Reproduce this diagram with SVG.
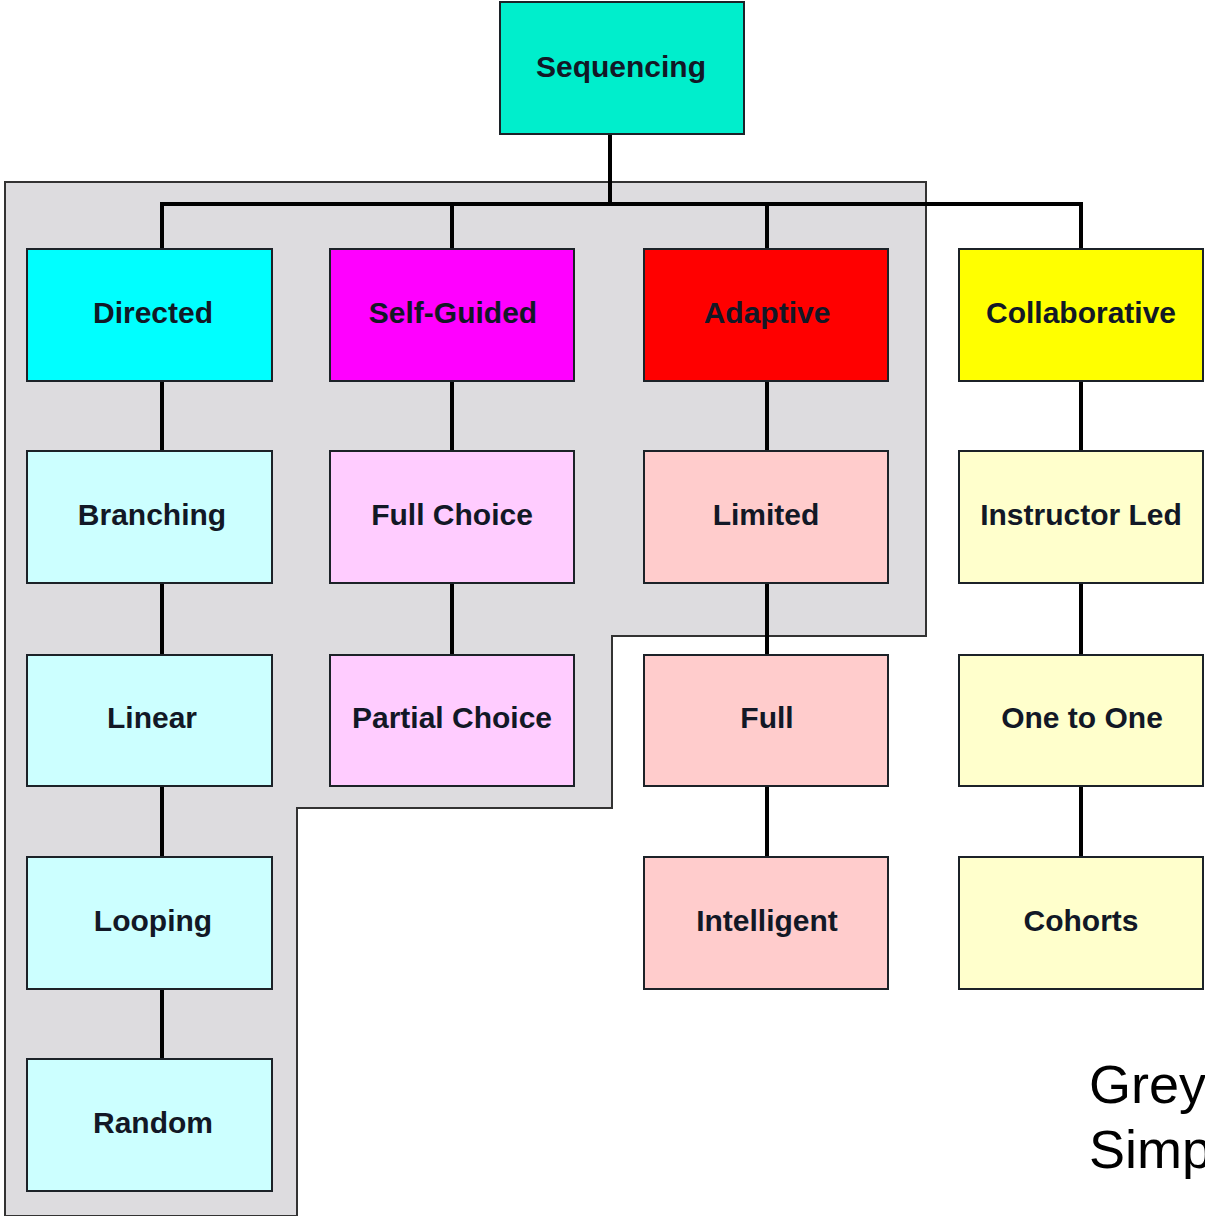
<svg xmlns="http://www.w3.org/2000/svg" width="1205" height="1216" viewBox="0 0 1205 1216">
<style>
.box{stroke:#1c2228;stroke-width:2}
.lbl{font-family:"Liberation Sans",Arial,sans-serif;font-weight:bold;font-size:30px;fill:#121826;text-anchor:middle}
.conn{stroke:#000;stroke-width:4;fill:none}
.note{font-family:"Liberation Sans",Arial,sans-serif;font-size:54px;fill:#000}
</style>
<rect width="1205" height="1216" fill="#fff"/>
<g id="grey-region">
<path d="M5,182 H926 V636 H612 V808 H297 V1216 H5 Z" fill="#dddcdf" stroke="#333" stroke-width="2"/>
</g>
<g id="connectors">
<path class="conn" d="M610,134 V204"/>
<path class="conn" d="M162,249 V204 H1081 V249"/>
<path class="conn" d="M452,204 V249"/>
<path class="conn" d="M767,204 V249"/>
<path class="conn" d="M162,381 V451 M162,583 V655 M162,786 V857 M162,989 V1059"/>
<path class="conn" d="M452,381 V451 M452,583 V655"/>
<path class="conn" d="M767,381 V451 M767,583 V655 M767,786 V857"/>
<path class="conn" d="M1081,381 V451 M1081,583 V655 M1081,786 V857"/>
</g>
<g id="sequencing"><rect class="box" x="500" y="2" width="244" height="132" fill="#00eecc"/><text class="lbl" x="621" y="77">Sequencing</text></g>
<g id="directed"><rect class="box" x="27" y="249" width="245" height="132" fill="#00ffff"/><text class="lbl" x="153" y="323">Directed</text></g>
<g id="self-guided"><rect class="box" x="330" y="249" width="244" height="132" fill="#ff00ff"/><text class="lbl" x="453" y="323">Self-Guided</text></g>
<g id="adaptive"><rect class="box" x="644" y="249" width="244" height="132" fill="#ff0000"/><text class="lbl" x="767" y="323">Adaptive</text></g>
<g id="collaborative"><rect class="box" x="959" y="249" width="244" height="132" fill="#ffff00"/><text class="lbl" x="1081" y="323">Collaborative</text></g>
<g id="branching"><rect class="box" x="27" y="451" width="245" height="132" fill="#ccffff"/><text class="lbl" x="152" y="525">Branching</text></g>
<g id="linear"><rect class="box" x="27" y="655" width="245" height="131" fill="#ccffff"/><text class="lbl" x="152" y="728">Linear</text></g>
<g id="looping"><rect class="box" x="27" y="857" width="245" height="132" fill="#ccffff"/><text class="lbl" x="153" y="931">Looping</text></g>
<g id="random"><rect class="box" x="27" y="1059" width="245" height="132" fill="#ccffff"/><text class="lbl" x="153" y="1133">Random</text></g>
<g id="full-choice"><rect class="box" x="330" y="451" width="244" height="132" fill="#ffccff"/><text class="lbl" x="452" y="525">Full Choice</text></g>
<g id="partial-choice"><rect class="box" x="330" y="655" width="244" height="131" fill="#ffccff"/><text class="lbl" x="452" y="728">Partial Choice</text></g>
<g id="limited"><rect class="box" x="644" y="451" width="244" height="132" fill="#ffcccc"/><text class="lbl" x="766" y="525">Limited</text></g>
<g id="full"><rect class="box" x="644" y="655" width="244" height="131" fill="#ffcccc"/><text class="lbl" x="767" y="728">Full</text></g>
<g id="intelligent"><rect class="box" x="644" y="857" width="244" height="132" fill="#ffcccc"/><text class="lbl" x="767" y="931">Intelligent</text></g>
<g id="instructor-led"><rect class="box" x="959" y="451" width="244" height="132" fill="#ffffcc"/><text class="lbl" x="1081" y="525">Instructor Led</text></g>
<g id="one-to-one"><rect class="box" x="959" y="655" width="244" height="131" fill="#ffffcc"/><text class="lbl" x="1082" y="728">One to One</text></g>
<g id="cohorts"><rect class="box" x="959" y="857" width="244" height="132" fill="#ffffcc"/><text class="lbl" x="1081" y="931">Cohorts</text></g>
<g id="note"><text class="note" x="1089" y="1103">Grey</text><text class="note" x="1089" y="1168">Simp</text></g>
</svg>
